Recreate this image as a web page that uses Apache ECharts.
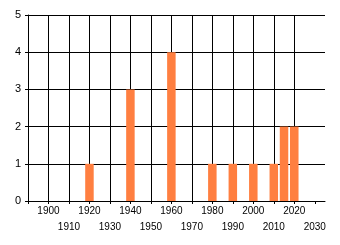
<!DOCTYPE html>
<html><head><meta charset="utf-8">
<script src="https://cdn.jsdelivr.net/npm/echarts@6/dist/echarts.min.js"></script>
<style>html,body{margin:0;padding:0;background:#fff}#c{width:340px;height:245px}</style>
</head><body><div id="c"></div>
<script>
const years = [1920, 1940, 1960, 1980, 1990, 2000, 2010, 2015, 2020];
const counts = [1, 3, 4, 1, 1, 1, 1, 2, 2];
const xTicks = [1890, 1900, 1910, 1920, 1930, 1940, 1950, 1960, 1970, 1980, 1990, 2000, 2010, 2020, 2030];
const xLabelsRow1 = [1900, 1920, 1940, 1960, 1980, 2000, 2020];
const xLabelsRow2 = [1910, 1930, 1950, 1970, 1990, 2010, 2030];

const chart = echarts.init(document.getElementById('c'), null, {renderer: 'canvas'});
const font = {fontFamily: 'Liberation Sans', fontSize: 10, color: '#000'};
const baseX = {type: 'value', min: 1890, max: 2035, interval: 10, position: 'bottom'};
chart.setOption({
  animation: false,
  grid: {left: 28, right: 15, top: 15, bottom: 44, containLabel: false},
  xAxis: [
    Object.assign({}, baseX, {
      axisLine: {show: true, lineStyle: {color: '#000', width: 1}},
      axisTick: {show: true, length: 3, lineStyle: {color: '#000'}, customValues: xTicks},
      splitLine: {show: true, showMaxLine: false, lineStyle: {color: '#000', width: 1}},
      axisLabel: Object.assign({}, font, {
        customValues: xLabelsRow1, margin: 5, formatter: v => String(v),
        showMinLabel: true, showMaxLabel: true, hideOverlap: false
      })
    }),
    Object.assign({}, baseX, {
      axisLine: {show: false},
      axisTick: {show: false},
      splitLine: {show: false},
      axisLabel: Object.assign({}, font, {
        customValues: xLabelsRow2, margin: 21, formatter: v => String(v),
        showMinLabel: true, showMaxLabel: true, hideOverlap: false
      })
    })
  ],
  yAxis: {
    type: 'value', min: 0, max: 5, interval: 1,
    axisLine: {show: true, lineStyle: {color: '#000', width: 1}},
    axisTick: {show: true, length: 3, lineStyle: {color: '#000'}},
    splitLine: {show: true, lineStyle: {color: '#000', width: 1}},
    axisLabel: Object.assign({}, font, {margin: 7, fontSize: 11})
  },
  series: [{
    type: 'bar', barWidth: 8.5, xAxisIndex: 0,
    itemStyle: {color: '#FF7F40'},
    data: years.map((y, i) => [y, counts[i]])
  }]
});
</script></body></html>
